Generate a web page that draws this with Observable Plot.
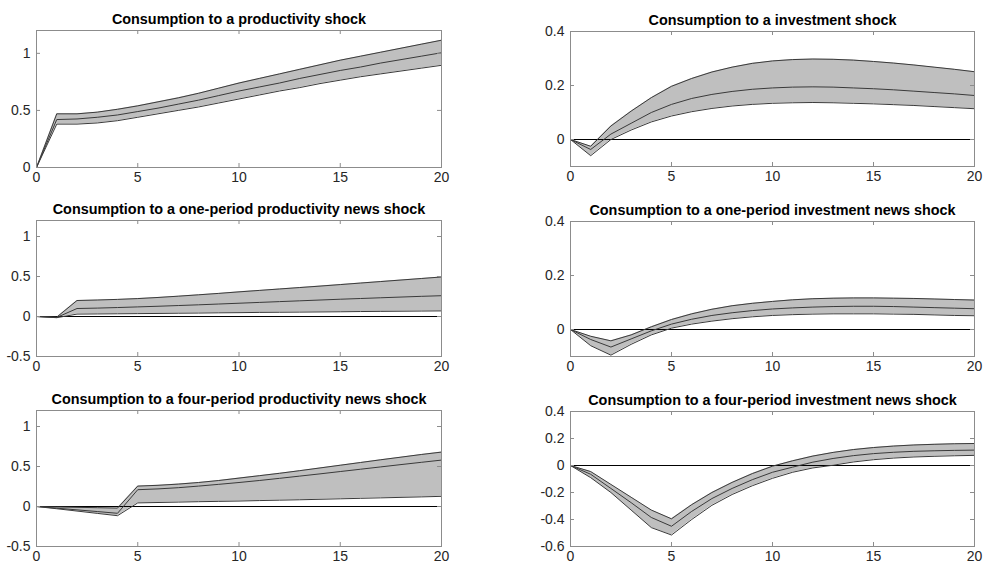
<!DOCTYPE html>
<html>
<head>
<meta charset="utf-8">
<script src="https://cdn.jsdelivr.net/npm/d3@7"></script>
<script src="https://cdn.jsdelivr.net/npm/@observablehq/plot@0.6"></script>
<style>
  html, body { margin: 0; padding: 0; background: #fff; }
  #root { position: relative; width: 985px; height: 570px; overflow: hidden; }
  .panel { position: absolute; }
</style>
</head>
<body>
<div id="root"></div>
<script>
// ---- data -------------------------------------------------------------
const periods = [0,1,2,3,4,5,6,7,8,9,10,11,12,13,14,15,16,17,18,19,20];
const xTicks = [0,5,10,15,20];

const titles = [
  "Consumption to a productivity shock",
  "Consumption to a investment shock",
  "Consumption to a one-period productivity news shock",
  "Consumption to a one-period investment news shock",
  "Consumption to a four-period productivity news shock",
  "Consumption to a four-period investment news shock"
];

// Panel 1: productivity shock
const prodMed = [0,0.42,0.425,0.44,0.46,0.49,0.52,0.555,0.59,0.63,0.67,0.705,0.74,0.78,0.815,0.85,0.88,0.915,0.945,0.975,1.005];
const prodHi  = [0,0.47,0.47,0.485,0.51,0.54,0.575,0.61,0.65,0.695,0.74,0.78,0.82,0.86,0.9,0.94,0.975,1.01,1.045,1.08,1.115];
const prodLo  = [0,0.38,0.38,0.39,0.41,0.44,0.47,0.5,0.53,0.565,0.6,0.635,0.67,0.7,0.735,0.765,0.795,0.82,0.845,0.87,0.895];

// Panel 2: investment shock
const invMed = [0,-0.037,0.02,0.06,0.1,0.13,0.152,0.167,0.178,0.186,0.191,0.194,0.195,0.194,0.191,0.188,0.184,0.179,0.174,0.169,0.163];
const invHi  = [0,-0.025,0.05,0.105,0.155,0.197,0.226,0.25,0.268,0.282,0.291,0.296,0.298,0.297,0.294,0.289,0.283,0.276,0.268,0.26,0.251];
const invLo  = [0,-0.06,0.0,0.035,0.065,0.087,0.103,0.115,0.124,0.13,0.134,0.136,0.137,0.136,0.134,0.132,0.129,0.126,0.122,0.118,0.114];

// Panel 3: one-period productivity news shock
const prodNews1Med = [0,-0.012,0.1,0.105,0.112,0.12,0.128,0.137,0.146,0.156,0.166,0.176,0.186,0.196,0.206,0.216,0.225,0.234,0.243,0.252,0.26];
const prodNews1Hi  = [0,-0.008,0.2,0.206,0.214,0.224,0.238,0.254,0.271,0.289,0.308,0.326,0.344,0.362,0.38,0.399,0.418,0.437,0.456,0.475,0.494];
const prodNews1Lo  = [0,-0.015,0.03,0.032,0.034,0.036,0.038,0.041,0.043,0.046,0.048,0.051,0.053,0.055,0.057,0.059,0.062,0.064,0.066,0.068,0.07];

// Panel 4: one-period investment news shock
const invNews1Med = [0,-0.037,-0.065,-0.035,-0.005,0.02,0.038,0.052,0.062,0.07,0.076,0.08,0.083,0.085,0.086,0.086,0.085,0.083,0.081,0.079,0.077];
const invNews1Hi  = [0,-0.025,-0.042,-0.02,0.01,0.037,0.058,0.075,0.088,0.097,0.104,0.11,0.114,0.116,0.117,0.117,0.116,0.115,0.113,0.111,0.109];
const invNews1Lo  = [0,-0.06,-0.095,-0.055,-0.02,0.005,0.02,0.031,0.04,0.047,0.052,0.055,0.057,0.058,0.058,0.058,0.057,0.056,0.054,0.052,0.051];

// Panel 5: four-period productivity news shock
const prodNews4Med = [0,-0.021,-0.042,-0.063,-0.085,0.21,0.22,0.235,0.255,0.277,0.3,0.325,0.352,0.38,0.408,0.437,0.466,0.495,0.524,0.552,0.58];
const prodNews4Hi  = [0,-0.005,-0.01,-0.015,-0.02,0.255,0.265,0.28,0.3,0.325,0.355,0.385,0.415,0.448,0.482,0.516,0.55,0.584,0.617,0.65,0.68];
const prodNews4Lo  = [0,-0.028,-0.057,-0.086,-0.115,0.045,0.05,0.055,0.06,0.064,0.068,0.074,0.079,0.084,0.09,0.096,0.102,0.108,0.114,0.12,0.127];

// Panel 6: four-period investment news shock
const invNews4Med = [0,-0.065,-0.17,-0.275,-0.385,-0.45,-0.34,-0.245,-0.17,-0.105,-0.05,-0.012,0.025,0.052,0.073,0.088,0.098,0.105,0.109,0.112,0.114];
const invNews4Hi  = [0,-0.045,-0.14,-0.235,-0.33,-0.395,-0.29,-0.2,-0.125,-0.06,-0.005,0.035,0.07,0.097,0.118,0.133,0.144,0.152,0.157,0.161,0.163];
const invNews4Lo  = [0,-0.09,-0.2,-0.33,-0.46,-0.515,-0.4,-0.295,-0.215,-0.15,-0.095,-0.05,-0.018,0.002,0.026,0.043,0.055,0.063,0.068,0.072,0.075];

// axis domains / ticks
const yDomainProd = [0, 1.2];
const yDomainNews = [-0.5, 1.2];
const yDomainInv = [-0.1, 0.4];
const yDomainInv4 = [-0.6, 0.4];
const yTicksProd = [0, 0.5, 1];
const yTicksNews = [-0.5, 0, 0.5, 1];
const yTicksInv = [0, 0.2, 0.4];
const yTicksInv4 = [-0.6, -0.4, -0.2, 0, 0.2, 0.4];

// ---- drawing ----------------------------------------------------------
function rows(med, hi, lo) {
  return periods.map((t, i) => ({t, med: med[i], hi: hi[i], lo: lo[i]}));
}

const panels = [
  {title: titles[0], data: rows(prodMed, prodHi, prodLo), yDomain: yDomainProd, yTicks: yTicksProd, side: "L", row: 0},
  {title: titles[1], data: rows(invMed, invHi, invLo), yDomain: yDomainInv, yTicks: yTicksInv, side: "R", row: 0},
  {title: titles[2], data: rows(prodNews1Med, prodNews1Hi, prodNews1Lo), yDomain: yDomainNews, yTicks: yTicksNews, side: "L", row: 1},
  {title: titles[3], data: rows(invNews1Med, invNews1Hi, invNews1Lo), yDomain: yDomainInv, yTicks: yTicksInv, side: "R", row: 1},
  {title: titles[4], data: rows(prodNews4Med, prodNews4Hi, prodNews4Lo), yDomain: yDomainNews, yTicks: yTicksNews, side: "L", row: 2},
  {title: titles[5], data: rows(invNews4Med, invNews4Hi, invNews4Lo), yDomain: yDomainInv4, yTicks: yTicksInv4, side: "R", row: 2}
];

const root = document.getElementById("root");
const fmt = d => String(d);
const frameColor = "#8c8c8c";
const tickLen = 4;

for (const p of panels) {
  const left = p.side === "L";
  const W = left ? 460 : 455;
  const H = 190;
  const mL = left ? 36 : 40;
  const mR = left ? 19 : 11;
  const mT = left ? 30 : 31;
  const mB = (left && p.row === 0) ? 23 : 24;
  const fw = W - mL - mR;
  const fh = H - mT - mB;

  const chart = Plot.plot({
    width: W,
    height: H,
    marginLeft: mL,
    marginRight: mR,
    marginTop: mT,
    marginBottom: mB,
    style: {fontFamily: "'Liberation Sans', Arial, Helvetica, sans-serif", fontSize: "14px", color: "#262626", background: "#fff", overflow: "visible"},
    x: {domain: [0, 20]},
    y: {domain: p.yDomain},
    marks: [
      Plot.areaY(p.data, {x: "t", y1: "lo", y2: "hi", fill: "#bfbfbf", curve: "linear"}),
      Plot.ruleY([0], {stroke: "#000", strokeWidth: 1.1}),
      Plot.line(p.data, {x: "t", y: "hi", stroke: "#3a3a3a", strokeWidth: 1}),
      Plot.line(p.data, {x: "t", y: "lo", stroke: "#3a3a3a", strokeWidth: 1}),
      Plot.line(p.data, {x: "t", y: "med", stroke: "#3a3a3a", strokeWidth: 1}),
      Plot.frame({stroke: frameColor, strokeWidth: 1}),
      // inward tick marks (MATLAB box style)
      Plot.ruleX(xTicks, {x: d => d, insetTop: fh - tickLen, stroke: frameColor}),
      Plot.ruleX(xTicks, {x: d => d, insetBottom: fh - tickLen, stroke: frameColor}),
      Plot.ruleY(p.yTicks, {y: d => d, insetRight: fw - tickLen, stroke: frameColor}),
      Plot.ruleY(p.yTicks, {y: d => d, insetLeft: fw - tickLen, stroke: frameColor}),
      Plot.axisX(xTicks, {tickSize: 0, tickPadding: 5, tickFormat: fmt, label: null}),
      Plot.axisY(p.yTicks, {tickSize: 0, tickPadding: 6, tickFormat: fmt, label: null}),
      Plot.text([p.title], {text: d => d, frameAnchor: "top", dy: -17, fontSize: 14.4, fontWeight: "bold", fill: "#000"})
    ]
  });
  const div = document.createElement("div");
  div.className = "panel";
  div.style.left = (left ? 0 : 530) + "px";
  div.style.top = (p.row * 190) + "px";
  div.appendChild(chart);
  root.appendChild(div);
}
</script>
</body>
</html>
